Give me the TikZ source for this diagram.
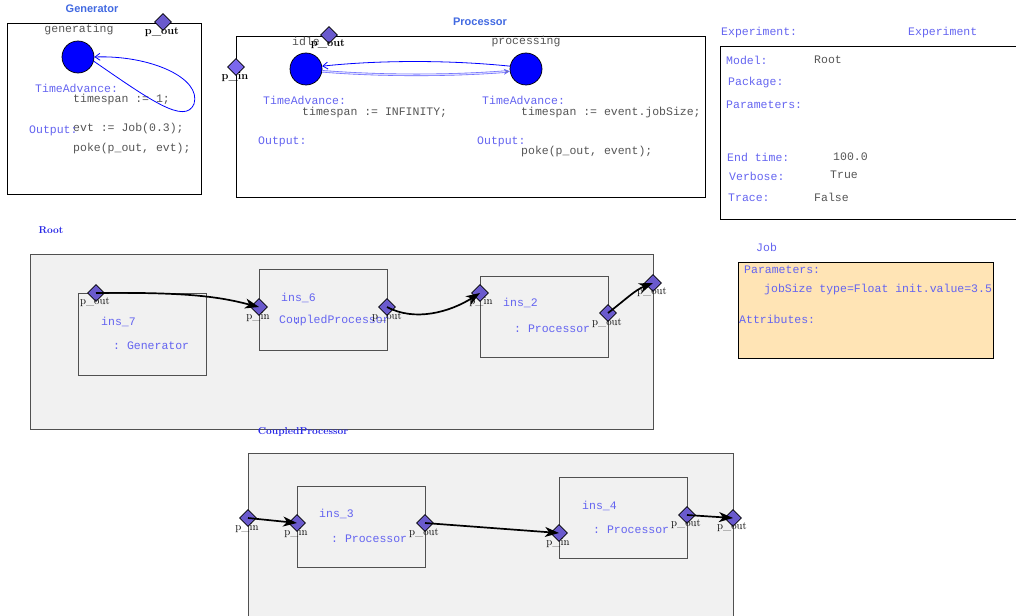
\documentclass[tikz,border=0pt]{standalone}
\usepackage{fontspec}
\setmonofont{Liberation Mono}
\setsansfont{Liberation Sans}
\usetikzlibrary{shapes.geometric,arrows.meta}
\definecolor{codegray}{RGB}{85,85,85}
\definecolor{kwblue}{RGB}{100,100,240}
\definecolor{ttlblue}{RGB}{65,105,225}
\definecolor{rootblue}{RGB}{40,40,230}
\definecolor{portfill}{RGB}{106,90,205}
\definecolor{portfillb}{RGB}{123,104,238}
\definecolor{boxgray}{RGB}{241,241,241}
\definecolor{jobfill}{RGB}{255,228,181}
\definecolor{framegray}{RGB}{80,80,80}
\begin{document}
\begin{tikzpicture}[x=1pt,y=-1pt,
  code/.style={font=\fontsize{11.5}{13}\ttfamily, text=codegray, inner sep=0, anchor=west},
  kw/.style={font=\fontsize{11.5}{13}\ttfamily, text=kwblue, inner sep=0, anchor=west},
  ttl/.style={font=\fontsize{11}{13}\sffamily\bfseries, text=ttlblue, inner sep=0},
  rttl/.style={font=\fontsize{10}{12}\bfseries, text=rootblue, inner sep=0},
  plbl/.style={font=\fontsize{11}{12}\selectfont, text=black, inner sep=0},
  pblbl/.style={font=\fontsize{11}{12}\bfseries, text=black, inner sep=0},
  port/.style={diamond, draw=black, fill=portfill, minimum size=17pt, inner sep=0, line width=0.7pt},
  portb/.style={port, fill=portfillb},
  state/.style={circle, draw=black, fill=blue, minimum size=32pt, inner sep=0, line width=0.7pt},
  frame/.style={draw=black, line width=0.8pt},
  cframe/.style={draw=framegray, fill=boxgray, line width=0.8pt},
  ibox/.style={draw=framegray, line width=0.8pt},
  bluearr/.style={draw=blue, line width=0.8pt, -{Straight Barb[length=5pt,width=7pt]}},
  hatcharr/.style={draw=blue!60, double=blue!15, double distance=1.2pt, line width=0.6pt, -{Stealth[length=6pt,width=6pt,fill=gray]}},
  link/.style={draw=black, line width=1.7pt, -{Stealth[length=14pt,width=10pt,inset=4pt]}}
]
\useasboundingbox (0,0) rectangle (1016,615);

% ---------------- Generator ----------------
\node[ttl] (gtitle) at (92,9) {Generator};
\draw[frame] (7,23) rectangle (201,194);
\node[code, anchor=center] (ggen) at (79,30) {generating};
\node[state] (gen) at (78,57) {};
\node[port] (gpout) at (163,22) {};
\node[pblbl] (gpoutl) at (162,32) {p\_out};
\node[kw] (gta) at (35,88) {TimeAdvance:};
\node[code] (gts) at (73,100) {timespan := 1;};
\node[code] (gevt) at (73,129) {evt := Job(0.3);};
\node[kw] (gout) at (29,131) {Output:};
\node[code] (gpoke) at (73,149) {poke(p\_out, evt);};
\draw[bluearr] (gen.-15) .. controls (150,100) and (185,125) .. (194,104)
   .. controls (202,78) and (150,55) .. (gen.east);

% ---------------- Processor ----------------
\node[ttl] (ptitle) at (480,22) {Processor};
\draw[frame] (236,36) rectangle (705,197);
\node[code, anchor=center] (pidlel) at (306,41) {idle};
\node[code, anchor=center] (pprocl) at (526,42) {processing};
\node[state] (idle) at (306,69) {};
\node[state] (proc) at (526,69) {};
\node[portb] (ppin) at (236,67) {};
\node[pblbl] (ppinl) at (235,77) {p\_in};
\node[port] (ppout) at (329,35) {};
\node[pblbl] (ppoutl) at (328,44) {p\_out};
\draw[hatcharr] (idle.-8) .. controls (380,76) and (450,76) .. (proc.188);
\draw[bluearr] (proc.170) .. controls (450,60) and (380,60) .. (idle.10);
\node[kw] (pta1) at (263,100) {TimeAdvance:};
\node[code] (pts1) at (302,113) {timespan := INFINITY;};
\node[kw] (pout1) at (258,142) {Output:};
\node[kw] (pta2) at (482,100) {TimeAdvance:};
\node[code] (pts2) at (521,113) {timespan := event.jobSize;};
\node[kw] (pout2) at (477,142) {Output:};
\node[code] (ppoke) at (521,152) {poke(p\_out, event);};

% ---------------- Experiment ----------------
\node[kw] (etitle1) at (721,33) {Experiment:};
\node[kw] (etitle2) at (908,33) {Experiment};
\draw[frame] (1017,46) -- (720,46) -- (720,219) -- (1017,219);
\node[kw] (emodel) at (726,60) {Model:};
\node[code] (emodelv) at (814,60) {Root};
\node[kw] (epack) at (728,83) {Package:};
\node[kw] (epar) at (726,105) {Parameters:};
\node[kw] (eend) at (727,157) {End time:};
\node[code] (eendv) at (833,157) {100.0};
\node[kw] (ever) at (729,176) {Verbose:};
\node[code] (everv) at (830,175) {True};
\node[kw] (etr) at (728,198) {Trace:};
\node[code] (etrv) at (814,197) {False};

% ---------------- Job ----------------
\node[kw] (jtitle) at (756,247) {Job};
\draw[frame, fill=jobfill] (738,262) rectangle (993,358);
\node[kw] (jpar) at (744,270) {Parameters:};
\node[kw] (jsize) at (764,290) {jobSize type=Float init.value=3.5};
\node[kw] (jatt) at (739,319) {Attributes:};

% ---------------- Root ----------------
\node[rttl] (rtitle) at (51,230) {Root};
\draw[cframe] (30,254) rectangle (653,429);
% ins_7
\draw[ibox] (78,293) rectangle (206,375);
\node[kw] (i7n) at (101,322) {ins\_7};
\node[kw] (i7t) at (113,346) {: Generator};
\node[port] (i7out) at (96,293) {};
\node[plbl] (i7outl) at (95,302) {p\_out};
% ins_6
\draw[ibox] (259,269) rectangle (387,350);
\node[kw] (i6n) at (281,298) {ins\_6};
\node[kw] (i6t) at (279,321) {CoupledProcessor};
\node[kw] (i6c) at (293,321) {:};
\node[port] (i6in) at (259,307) {};
\node[plbl] (i6inl) at (258,317) {p\_in};
\node[port] (i6out) at (387,307) {};
\node[plbl] (i6outl) at (387,317) {p\_out};
% ins_2
\draw[ibox] (480,276) rectangle (608,357);
\node[kw] (i2n) at (503,303) {ins\_2};
\node[kw] (i2t) at (514,329) {: Processor};
\node[port] (i2in) at (480,293) {};
\node[plbl] (i2inl) at (481,302) {p\_in};
\node[port] (i2out) at (608,313) {};
\node[plbl] (i2outl) at (607,323) {p\_out};
% root port
\node[port] (rout) at (653,283) {};
\node[plbl] (routl) at (652,292) {p\_out};
% links
\draw[link] (i7out.center) .. controls (190,292) and (220,297) .. (i6in.center);
\draw[link] (i6out.center) .. controls (415,322) and (450,312) .. (i2in.center);
\draw[link] (i2out.center) .. controls (625,300) and (635,290) .. (rout.center);

% ---------------- CoupledProcessor ----------------
\node[rttl] (ctitle) at (303,432) {CoupledProcessor};
\draw[cframe] (248,616) -- (248,453) -- (733,453) -- (733,616);
% ins_3
\draw[ibox] (297,486) rectangle (425,567);
\node[kw] (i3n) at (319,514) {ins\_3};
\node[kw] (i3t) at (331,539) {: Processor};
\node[port] (i3in) at (297,523) {};
\node[plbl] (i3inl) at (296,533) {p\_in};
\node[port] (i3out) at (425,523) {};
\node[plbl] (i3outl) at (424,533) {p\_out};
% ins_4
\draw[ibox] (559,477) rectangle (687,558);
\node[kw] (i4n) at (582,506) {ins\_4};
\node[kw] (i4t) at (593,530) {: Processor};
\node[port] (i4in) at (559,533) {};
\node[plbl] (i4inl) at (558,543) {p\_in};
\node[port] (i4out) at (687,515) {};
\node[plbl] (i4outl) at (686,524) {p\_out};
% coupled ports
\node[port] (cin) at (248,518) {};
\node[plbl] (cinl) at (247,528) {p\_in};
\node[port] (cout) at (733,518) {};
\node[plbl] (coutl) at (732,527) {p\_out};
% links
\draw[link] (cin.center) -- (i3in.center);
\draw[link] (i3out.center) -- (i4in.center);
\draw[link] (i4out.center) -- (cout.center);
\end{tikzpicture}
\end{document}
